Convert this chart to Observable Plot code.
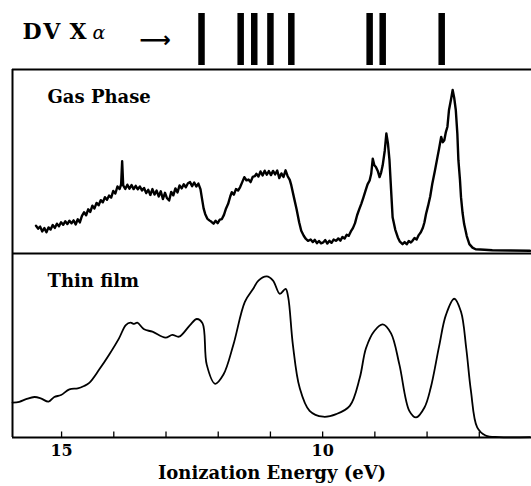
<!DOCTYPE html>
<html>
<head>
<meta charset="utf-8">
<script src="https://cdn.jsdelivr.net/npm/d3@7"></script>
<script src="https://cdn.jsdelivr.net/npm/@observablehq/plot@0.6"></script>
<style>
  body { margin: 0; background: #fff; }
  #chart { width: 531px; height: 486px; position: relative; }
  #chart svg { display: block; }
  #chart svg:first-child text { letter-spacing: 2px; }
</style>
</head>
<body>
<div id="chart"></div>
<script>
// ---- data ----
const xDomain = [15.94, 6.0];           // ionization energy axis (eV), reversed
const tickValues = [15, 14, 13, 12, 11, 10, 9, 8, 7];
const tickLabels = [15, 10];
const panelNames = ["Gas Phase", "Thin film"];
const axisTitle = "Ionization Energy (eV)";

// DV-Xalpha calculated levels (eV)
const dvLevels = [12.32, 11.57, 11.31, 11.00, 10.60, 9.10, 8.85, 7.72];

// Gas phase spectrum: energy (eV) and intensity (arb., 0-100)
const gasE = [15.49,15.45,15.41,15.37,15.33,15.29,15.25,15.21,15.17,15.13,15.09,15.05,15.01,14.97,14.93,14.89,14.85,14.81,14.77,14.73,14.69,14.65,14.61,14.57,14.53,14.49,14.45,14.41,14.37,14.33,14.29,14.25,14.21,14.17,14.13,14.09,14.05,14.01,13.97,13.93,13.89,13.86,13.84,13.82,13.78,13.74,13.70,13.66,13.62,13.58,13.54,13.50,13.46,13.42,13.38,13.34,13.30,13.26,13.22,13.18,13.14,13.10,13.06,13.02,12.98,12.94,12.90,12.86,12.82,12.78,12.74,12.70,12.66,12.62,12.58,12.54,12.50,12.46,12.42,12.38,12.34,12.31,12.28,12.25,12.21,12.17,12.13,12.09,12.05,12.01,11.97,11.93,11.89,11.85,11.81,11.77,11.74,11.70,11.66,11.62,11.58,11.54,11.50,11.46,11.42,11.38,11.34,11.30,11.27,11.23,11.19,11.15,11.11,11.07,11.03,10.99,10.95,10.91,10.87,10.83,10.79,10.75,10.71,10.67,10.63,10.60,10.55,10.50,10.45,10.41,10.36,10.32,10.28,10.23,10.19,10.15,10.11,10.07,10.03,9.99,9.95,9.91,9.87,9.83,9.79,9.74,9.70,9.66,9.62,9.58,9.54,9.50,9.46,9.42,9.38,9.34,9.30,9.26,9.22,9.18,9.14,9.10,9.07,9.04,9.01,8.98,8.94,8.91,8.88,8.85,8.81,8.78,8.75,8.72,8.69,8.66,8.61,8.56,8.52,8.47,8.43,8.39,8.35,8.31,8.28,8.24,8.20,8.16,8.12,8.08,8.05,8.02,7.98,7.94,7.90,7.85,7.80,7.77,7.73,7.70,7.67,7.64,7.61,7.58,7.54,7.51,7.48,7.45,7.42,7.40,7.37,7.35,7.32,7.29,7.24,7.19,7.13,7.07,6.90,6.75,6.40,6.03];
const gasI = [15.1,13.5,14.6,12.0,13.8,11.5,14.2,13.0,15.5,13.9,16.2,14.8,17.0,15.6,17.5,16.0,17.8,16.4,18.0,15.8,18.6,16.9,20.5,22.4,20.8,24.0,22.6,26.0,24.5,27.5,26.2,29.0,27.8,30.6,29.2,31.5,30.4,34.0,32.6,36.4,35.0,37.5,50.1,37.0,35.1,37.4,35.2,37.2,35.0,36.8,34.9,36.4,34.3,35.6,32.8,34.6,31.8,35.0,32.0,34.2,31.0,33.8,29.6,33.0,30.0,28.8,33.5,31.6,35.4,33.2,37.0,35.4,37.6,36.0,38.2,38.8,36.6,38.6,36.4,38.0,35.0,29.7,24.5,21.5,19.0,18.0,17.2,16.2,17.8,16.5,18.4,18.7,21.0,24.5,27.0,31.0,33.3,32.0,35.0,34.2,36.1,38.8,41.5,39.8,40.2,38.8,41.6,42.0,43.3,41.8,44.6,42.4,45.0,42.8,44.8,42.6,44.9,43.0,45.1,41.0,43.5,41.6,45.2,42.0,40.0,37.0,30.5,24.2,17.0,12.4,9.5,7.9,6.9,7.6,6.2,7.4,5.6,6.8,5.5,6.0,7.3,5.4,6.9,5.8,7.6,6.9,8.2,7.0,9.0,8.1,10.2,9.6,12.0,13.8,16.5,20.8,24.0,27.0,30.4,34.0,37.6,39.7,43.3,51.5,48.0,47.0,44.5,41.5,44.0,47.9,56.0,65.2,60.0,50.7,35.0,19.7,13.0,8.7,6.4,5.1,6.2,5.0,6.8,6.0,6.9,8.4,7.6,10.0,11.5,14.0,17.0,21.5,26.0,31.0,37.9,45.0,52.5,57.0,63.4,60.5,61.6,66.0,68.9,78.0,84.0,88.9,84.5,78.0,65.0,50.7,40.0,30.6,22.0,16.0,9.5,5.1,3.2,2.3,2.0,1.8,1.6,1.5];

// Thin film spectrum: energy (eV) and intensity (arb., 0-100)
const filmE = [15.94,15.81,15.68,15.52,15.40,15.25,15.14,15.01,14.85,14.69,14.57,14.47,14.28,14.09,13.90,13.77,13.68,13.61,13.55,13.42,13.26,13.01,12.88,12.75,12.54,12.41,12.30,12.22,12.06,11.90,11.71,11.49,11.33,11.23,11.07,10.95,10.82,10.71,10.66,10.57,10.44,10.25,9.99,9.74,9.48,9.29,9.17,9.01,8.85,8.69,8.53,8.34,8.21,8.05,7.93,7.77,7.64,7.48,7.35,7.25,7.16,7.04,6.88,6.62,6.03];
const filmI = [19.0,19.4,20.8,22.0,21.3,19.5,22.0,23.1,26.2,26.7,28.0,29.7,36.9,45.0,53.9,61.1,62.4,61.7,62.4,58.8,57.5,54.3,55.8,54.8,61.1,64.4,62.0,39.6,29.2,34.2,50.4,73.7,80.8,85.3,87.6,85.3,78.1,80.8,76.3,50.4,27.0,14.5,11.3,12.7,17.2,32.3,48.5,57.9,61.5,56.6,39.6,14.5,10.9,16.3,27.0,49.5,66.5,75.4,68.3,48.5,25.3,5.5,1.1,0.2,0.2];

// ---- tables built from the arrays ----
const gas = gasE.map((e, i) => ({E: e, I: gasI[i], panel: "gas"}));
const film = filmE.map((e, i) => ({E: e, I: filmI[i], panel: "film"}));
const frameH = [{panel: "gas", v: 100}, {panel: "gas", v: 0}, {panel: "film", v: 0}];
const frameV = [{panel: "gas"}, {panel: "film"}];
const labels = [{panel: "gas", text: panelNames[0]}, {panel: "film", text: panelNames[1]}];

const serif = "DejaVu Serif";

// ---- top strip: DV-Xalpha levels ----
const stripChart = Plot.plot({
  width: 531, height: 66,
  marginLeft: 12, marginRight: 0, marginTop: 13, marginBottom: 1,
  x: {domain: xDomain, axis: null},
  y: {domain: [0, 1], axis: null},
  style: {fontFamily: serif, background: "white"},
  marks: [
    Plot.ruleX(dvLevels, {x: d => d, y1: 0, y2: 1, stroke: "black", strokeWidth: 6.5}),
    Plot.text(["DV"], {frameAnchor: "left", dx: 10, dy: -1, lineAnchor: "bottom", textAnchor: "start", fontSize: 22, fontWeight: "bold", fill: "black"}),
    Plot.text(["X"], {frameAnchor: "left", dx: 57, dy: -1, lineAnchor: "bottom", textAnchor: "start", fontSize: 22, fontWeight: "bold", fill: "black"}),
    Plot.text(["α"], {frameAnchor: "left", dx: 80, dy: -1, lineAnchor: "bottom", textAnchor: "start", fontSize: 19, fontStyle: "italic", fill: "black"}),
    Plot.text(["⟶"], {frameAnchor: "left", dx: 127, dy: 7, lineAnchor: "bottom", textAnchor: "start", fontSize: 22, fontWeight: "bold", fill: "black", fontFamily: "DejaVu Sans"})
  ]
});

// ---- main chart: two stacked panels ----
const mainChart = Plot.plot({
  width: 531, height: 420,
  marginLeft: 12, marginRight: 0, marginTop: 2, marginBottom: 49,
  x: {domain: xDomain, ticks: tickLabels, tickSize: 0, tickPadding: 7, label: null},
  y: {domain: [0, 100], axis: null},
  fy: {domain: ["gas", "film"], padding: 0, axis: null},
  style: {fontFamily: serif, fontSize: "16px", fontWeight: "bold", background: "white", color: "black"},
  marks: [
    Plot.ruleY(frameH, {y: "v", fy: "panel", stroke: "black", strokeWidth: 2}),
    Plot.ruleX(frameV, {x: () => xDomain[0], fy: "panel", stroke: "black", strokeWidth: 2}),
    Plot.ruleX(tickValues, {x: d => d, y1: 0, y2: 3, fy: () => "film", stroke: "black", strokeWidth: 1.3}),
    Plot.line(gas, {x: "E", y: "I", fy: "panel", stroke: "black", strokeWidth: 2.4}),
    Plot.line(film, {x: "E", y: "I", fy: "panel", stroke: "black", strokeWidth: 1.8, curve: "catmull-rom"}),
    Plot.text(labels, {text: "text", fy: "panel", frameAnchor: "top-left", dx: 35, dy: 33.5, lineAnchor: "bottom", textAnchor: "start", fontSize: 18, fontWeight: "bold", fill: "black"}),
    Plot.text([axisTitle], {fy: () => "film", frameAnchor: "bottom", dx: 0, dy: 41, lineAnchor: "bottom", fontSize: 18, fontWeight: "bold", fill: "black"})
  ]
});

document.getElementById("chart").append(stripChart, mainChart);
</script>
</body>
</html>
